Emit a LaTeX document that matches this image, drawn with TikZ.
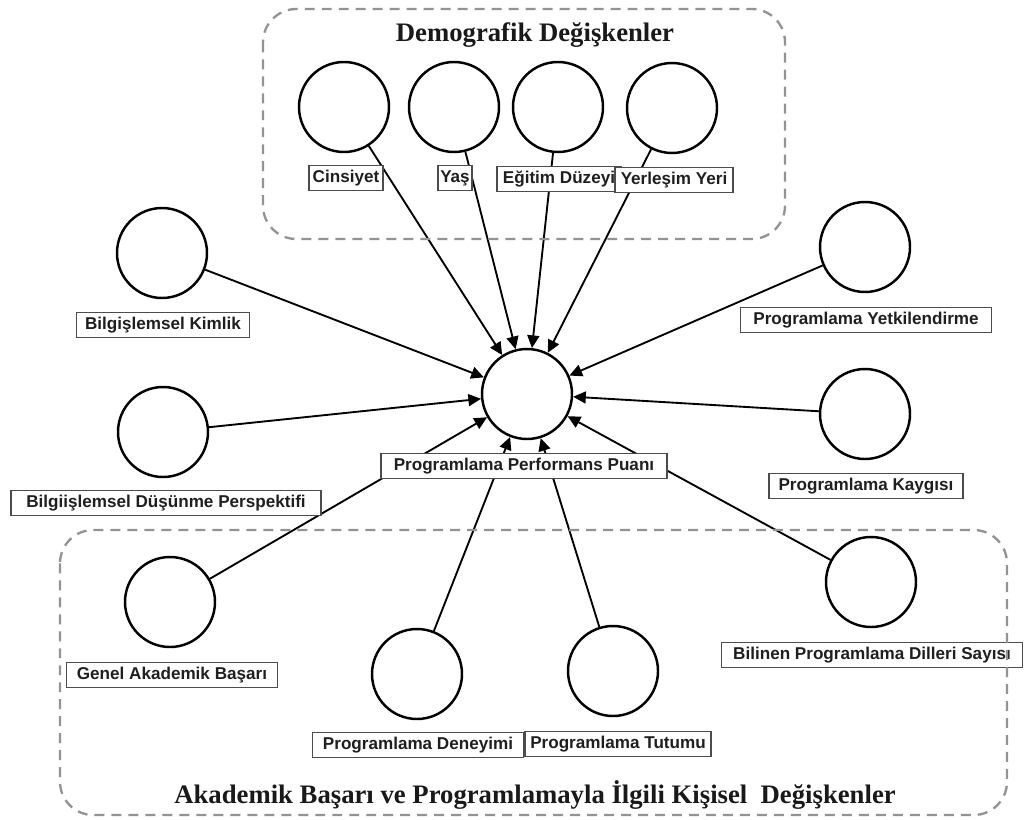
\documentclass[tikz,border=0pt]{standalone}
\usepackage{fontspec}
\setmainfont{Liberation Serif}
\setsansfont{Liberation Sans}
\usetikzlibrary{arrows.meta}
\begin{document}
\begin{tikzpicture}[x=0.3mm,y=-0.3mm,
  var/.style={circle,draw,line width=2.1pt,minimum size=27mm,inner sep=0pt,fill=white},
  lbl/.style={draw=gray!60!black,line width=1pt,fill=white,font=\sffamily\bfseries\fontsize{14.6}{16}\selectfont,text=black!88,minimum height=7.5mm,inner sep=0pt},
  conn/.style={line width=1.6pt,-{Triangle[length=3.8mm,width=3.6mm]}},
  grp/.style={draw=gray!85,line width=2pt,dash pattern=on 8.5pt off 6pt,rounded corners=10mm},
  ttl/.style={font=\bfseries\fontsize{22.8}{26}\selectfont,text=black!90}]
\useasboundingbox (0,0) rectangle (1030,819);

% circles
\node[var] (pp) at (527,394) {};
\node[var] (cin) at (344,107) {};
\node[var] (yas) at (454,107) {};
\node[var] (egi) at (558,107) {};
\node[var] (yer) at (672,108) {};
\node[var] (bk) at (162,253) {};
\node[var] (bdp) at (163,432) {};
\node[var] (py) at (865,247) {};
\node[var] (pk) at (865,414) {};
\node[var] (gab) at (170,602) {};
\node[var] (pd) at (417,674) {};
\node[var] (pt) at (613,671) {};
\node[var] (bpd) at (871,582) {};

% connectors
\foreach \s in {cin,yas,egi,yer,bk,bdp,py,pk,gab,pd,pt,bpd}
  \draw[conn] (\s) -- (pp);

% labels
\node[lbl,minimum width=74*0.3mm] (lcin) at (346,178) {Cinsiyet};
\node[lbl,minimum width=34*0.3mm] (lyas) at (455,178) {Yaş};
\node[lbl,minimum width=124*0.3mm] (legi) at (559,179) {Eğitim Düzeyi};
\node[lbl,minimum width=118*0.3mm] (lyer) at (674,180) {Yerleşim Yeri};
\node[lbl,minimum width=173*0.3mm] (lbk) at (163,325) {Bilgişlemsel Kimlik};
\node[lbl,minimum width=310*0.3mm] (lbdp) at (166,503) {Bilgiişlemsel Düşünme Perspektifi};
\node[lbl,minimum width=251*0.3mm] (lpy) at (866,320) {Programlama Yetkilendirme};
\node[lbl,minimum width=194*0.3mm] (lpk) at (866,486) {Programlama Kaygısı};
\node[lbl,minimum width=286*0.3mm] (lpp) at (524,466) {Programlama Performans Puanı};
\node[lbl,minimum width=211*0.3mm] (lgab) at (172,675) {Genel Akademik Başarı};
\node[lbl,minimum width=211*0.3mm] (lpd) at (418,745) {Programlama Deneyimi};
\node[lbl,minimum width=186*0.3mm] (lpt) at (618,744) {Programlama Tutumu};
\node[lbl,minimum width=301*0.3mm] (lbpd) at (872,655) {Bilinen Programlama Dilleri Sayısı};

% groups
\draw[grp] (263,9) rectangle (785,239);
\draw[grp] (60,530) rectangle (1007,815);
\node[ttl] (t1) at (535,35) {Demografik Değişkenler};
\node[ttl] (t2) at (535,795) {Akademik Başarı ve Programlamayla İlgili Kişisel\ \ Değişkenler};
\end{tikzpicture}
\end{document}
